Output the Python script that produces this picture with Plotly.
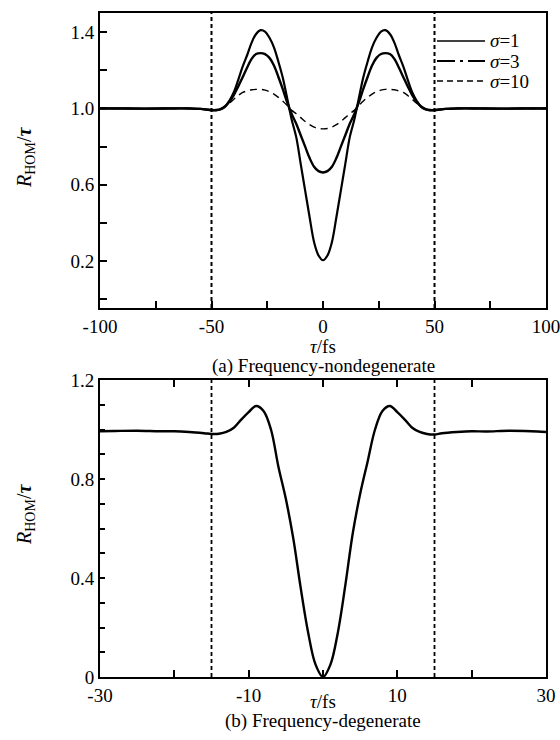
import plotly.graph_objects as go

# ---------------- data ----------------
# (a) frequency-nondegenerate
tau_a = [-100, -90, -80, -70, -60, -55,
         -50, -48, -46, -44, -42, -40, -38, -36, -34, -32, -30, -28, -26, -24, -22, -20, -18, -16, -14, -12,
         -10, -8, -6, -4, -2, 0, 2, 4, 6, 8, 10,
         12, 14, 16, 18, 20, 22, 24, 26, 28, 30, 32, 34, 36, 38, 40, 42, 44, 46, 48, 50,
         55, 60, 70, 80, 90, 100]
r_sigma1 = [1.0, 1.0, 0.999, 1.0, 1.0, 0.998,
            0.99, 0.99, 0.995, 1.008, 1.04, 1.085, 1.15, 1.22, 1.28, 1.345, 1.39, 1.41, 1.403, 1.37, 1.32, 1.245, 1.16, 1.05, 0.94, 0.85,
            0.71, 0.57, 0.43, 0.30, 0.23, 0.205, 0.23, 0.30, 0.43, 0.57, 0.71,
            0.85, 0.94, 1.05, 1.16, 1.245, 1.32, 1.37, 1.403, 1.41, 1.39, 1.345, 1.28, 1.22, 1.15, 1.085, 1.04, 1.008, 0.995, 0.99, 0.99,
            0.998, 1.0, 1.0, 0.999, 1.0, 1.0]
r_sigma3 = [1.0, 1.0, 0.999, 1.0, 1.0, 0.998,
            0.992, 0.992, 0.997, 1.01, 1.035, 1.07, 1.115, 1.165, 1.215, 1.26, 1.285, 1.29, 1.285, 1.265, 1.225, 1.165, 1.10, 1.03, 0.97, 0.92,
            0.86, 0.80, 0.74, 0.695, 0.672, 0.665, 0.672, 0.695, 0.74, 0.80, 0.86,
            0.92, 0.97, 1.03, 1.10, 1.165, 1.225, 1.265, 1.285, 1.29, 1.285, 1.26, 1.215, 1.165, 1.115, 1.07, 1.035, 1.01, 0.997, 0.992, 0.992,
            0.998, 1.0, 1.0, 0.999, 1.0, 1.0]
r_sigma10 = [1.0, 1.0, 0.999, 1.0, 1.0, 0.998,
             0.992, 0.993, 0.998, 1.01, 1.027, 1.048, 1.068, 1.084, 1.092, 1.098, 1.10, 1.10, 1.096, 1.088, 1.075, 1.058, 1.038, 1.015, 0.99, 0.972,
             0.952, 0.932, 0.915, 0.902, 0.895, 0.893, 0.895, 0.902, 0.915, 0.932, 0.952,
             0.972, 0.99, 1.015, 1.038, 1.058, 1.075, 1.088, 1.096, 1.10, 1.10, 1.098, 1.092, 1.084, 1.068, 1.048, 1.027, 1.01, 0.998, 0.993, 0.992,
             0.998, 1.0, 1.0, 0.999, 1.0, 1.0]
series_names = ["<i>σ</i>=1", "<i>σ</i>=3", "<i>σ</i>=10"]
cutoff_a = [-50, 50]

# (b) frequency-degenerate
tau_b = [-30, -28, -25, -22, -20, -18, -16, -15, -14, -13, -12, -11, -10, -9, -8, -7, -6, -5, -4, -3, -2, -1,
         0, 1, 2, 3, 4, 5, 6, 7, 8, 9, 10, 11, 12, 13, 14, 15, 16, 18, 20, 22, 25, 28, 30]
r_degen = [0.993, 0.994, 0.995, 0.993, 0.993, 0.99, 0.985, 0.982, 0.983, 0.99, 1.007, 1.04, 1.07, 1.095, 1.075, 1.0, 0.85, 0.72, 0.56, 0.36, 0.18, 0.05,
           0.0, 0.05, 0.18, 0.37, 0.58, 0.74, 0.87, 1.0, 1.075, 1.095, 1.07, 1.04, 1.007, 0.99, 0.982, 0.98, 0.985, 0.99, 0.993, 0.992, 0.995, 0.993, 0.99]
cutoff_b = [-15, 15]

# tick definitions
xa_ticks = [-100, -75, -50, -25, 0, 25, 50, 75, 100]
xa_labels = ["-100", "", "-50", "", "0", "", "50", "", "100"]
ya_ticks = [0.0, 0.2, 0.4, 0.6, 0.8, 1.0, 1.2, 1.4]
ya_labels = ["", "0.2", "", "0.6", "", "1.0", "", "1.4"]
xb_ticks = [-30, -20, -10, 0, 10, 20, 30]
xb_labels = ["-30", "", "-10", "", "10", "", "30"]
yb_ticks = [0, 0.1, 0.2, 0.3, 0.4, 0.5, 0.6, 0.7, 0.8, 0.9, 1.0, 1.1, 1.2]
yb_labels = ["0", "", "", "", "0.4", "", "", "", "0.8", "", "", "", "1.2"]

# ---------------- figure ----------------
FONT = "Liberation Serif"
W, H = 560, 740

fig = go.Figure()

fig.add_trace(go.Scatter(x=tau_a, y=r_sigma1, mode="lines", line=dict(color="black", width=2.2, shape="spline"),
                         showlegend=False, xaxis="x", yaxis="y"))
fig.add_trace(go.Scatter(x=tau_a, y=r_sigma3, mode="lines", line=dict(color="black", width=2.4, shape="spline"),
                         showlegend=False, xaxis="x", yaxis="y"))
fig.add_trace(go.Scatter(x=tau_a, y=r_sigma10, mode="lines", line=dict(color="black", width=1.4, dash="7px,5px", shape="spline"),
                         showlegend=False, xaxis="x", yaxis="y"))
fig.add_trace(go.Scatter(x=tau_b, y=r_degen, mode="lines", line=dict(color="black", width=2.4, shape="spline"),
                         showlegend=False, xaxis="x2", yaxis="y2"))

for c in cutoff_a:
    fig.add_shape(type="line", xref="x", yref="y domain", x0=c, x1=c, y0=0, y1=1,
                  line=dict(color="black", width=2, dash="4px,3px"))
for c in cutoff_b:
    fig.add_shape(type="line", xref="x2", yref="y2 domain", x0=c, x1=c, y0=0, y1=1,
                  line=dict(color="black", width=1.8, dash="4px,3px"))

# legend (drawn manually to match the compact spacing of the original)
leg_rows = [41, 61, 81]
leg_x0, leg_x1, leg_tx = 437, 485, 488
leg_styles = [dict(width=1.5), dict(width=1.8, dash="18px,5px,3px,5px,40px"), dict(width=1.3, dash="6px,4px")]
for name, row, st in zip(series_names, leg_rows, leg_styles):
    fig.add_shape(type="line", xref="paper", yref="paper", x0=leg_x0 / W, x1=leg_x1 / W,
                  y0=1 - row / H, y1=1 - row / H, line=dict(color="black", **st))
    fig.add_annotation(xref="paper", yref="paper", x=leg_tx / W, y=1 - row / H, text=name,
                       showarrow=False, xanchor="left", yanchor="middle",
                       font=dict(family=FONT, size=19, color="black"))

axis_common = dict(showline=True, linecolor="black", linewidth=2, showgrid=False, zeroline=False,
                   ticks="inside", tickcolor="black", tickwidth=1.6, ticklen=7, automargin=False,
                   ticklabeloverflow="allow",
                   tickfont=dict(family=FONT, size=19, color="black"))

xdom = [100 / W, 546 / W]
fig.update_layout(
    template="none",
    width=W, height=H,
    margin=dict(l=0, r=0, t=0, b=0, pad=0),
    paper_bgcolor="white", plot_bgcolor="white",
    font=dict(family=FONT, size=18, color="black"),
    xaxis=dict(domain=xdom, anchor="y", range=[-100, 100], tickmode="array",
               tickvals=xa_ticks, ticktext=xa_labels, mirror=True, **axis_common),
    yaxis=dict(domain=[1 - 308 / H, 1 - 13 / H], anchor="x", range=[-0.045, 1.5], tickmode="array",
               tickvals=ya_ticks, ticktext=ya_labels, mirror=True, **axis_common),
    xaxis2=dict(domain=xdom, anchor="y2", range=[-30, 30], tickmode="array",
                tickvals=xb_ticks, ticktext=xb_labels, mirror="allticks", **axis_common),
    yaxis2=dict(domain=[1 - 677 / H, 1 - 380 / H], anchor="x2", range=[0, 1.2], tickmode="array",
                tickvals=yb_ticks, ticktext=yb_labels, mirror=True, **{**axis_common, "ticklen": 5}),
    showlegend=False,
)

ann = [
    dict(text="<i>τ</i>/fs", x=323 / W, y=1 - 346 / H),
    dict(text="(a) Frequency-nondegenerate", x=323 / W, y=1 - 366 / H),
    dict(text="<i>τ</i>/fs", x=323 / W, y=1 - 701 / H),
    dict(text="(b) Frequency-degenerate", x=323 / W, y=1 - 721 / H),
]
for a in ann:
    fig.add_annotation(xref="paper", yref="paper", showarrow=False, xanchor="center", yanchor="middle",
                       font=dict(family=FONT, size=19, color="black"), **a)

ytitle = "<i>R</i><sub>HOM</sub>/<b><i>τ</i></b>"
for yy in [1 - 158 / H, 1 - 515 / H]:
    fig.add_annotation(xref="paper", yref="paper", x=25 / W, y=yy, text=ytitle, textangle=-90,
                       showarrow=False, xanchor="center", yanchor="middle",
                       font=dict(family=FONT, size=20, color="black"))

fig.write_html("out.html",
               config={"displayModeBar": False},
               post_script="document.body.style.margin='0';document.body.style.overflow='hidden';"
                           "document.documentElement.style.overflow='hidden';")
